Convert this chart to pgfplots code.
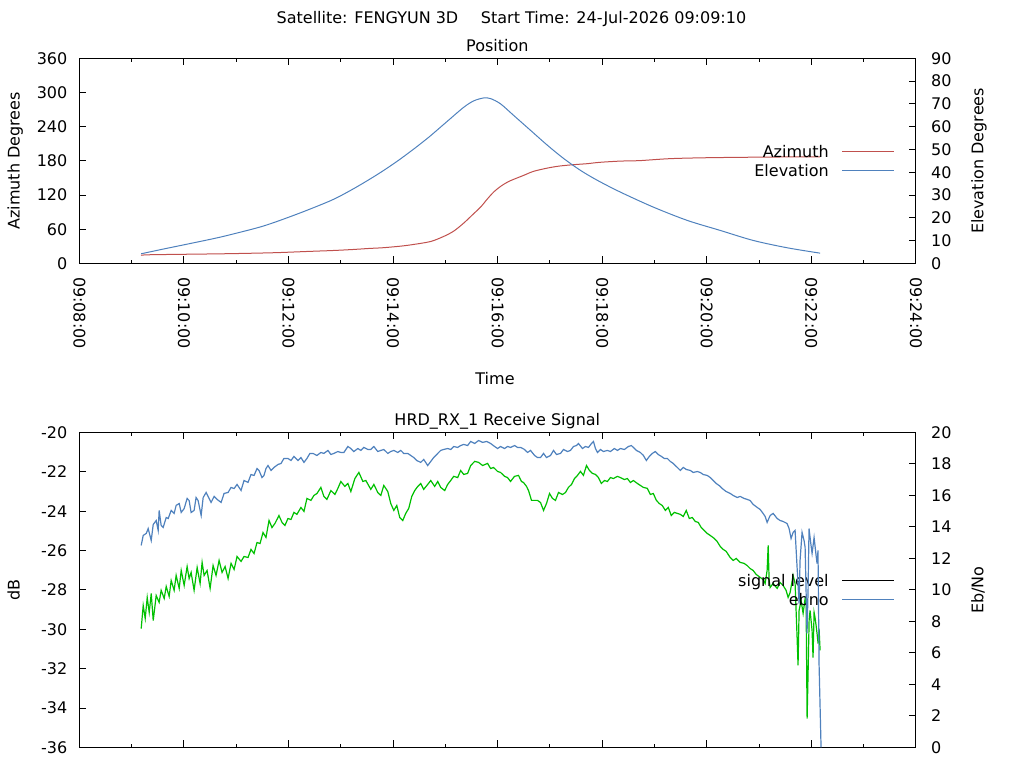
\documentclass[border=0pt]{standalone}
\usepackage{pgfplots}
\pgfplotsset{compat=1.18}
\usepackage{fontspec}
\setmainfont{DejaVu Sans}
\definecolor{azred}{RGB}{192,80,77}
\definecolor{elblue}{RGB}{79,129,189}
\definecolor{sigreen}{RGB}{0,192,0}

\pgfplotsset{
  gstyle/.style={
    scale only axis, width=627.4pt,
    xmin=0, xmax=960,
    tick align=inside,
    major tick length=5.25pt, minor tick length=2.6pt,
    every tick/.style={black, line width=0.75pt},
    axis line style={line width=0.75pt},
    font=\fontsize{12}{14}\selectfont,
    tick label style={font=\fontsize{12}{14}\selectfont},
    /pgf/number format/assume math mode=true,
    xtick={0,120,...,960}, minor x tick num=1,
  },
  leg/.style={
    legend style={draw=none, fill=none, at={(0.975,0.5)}, anchor=east,
      font=\fontsize{12}{14}\selectfont, row sep=5.7pt, column sep=9.75pt,
      inner sep=0pt, nodes={inner sep=0pt, text height=9pt, text depth=0pt}},
    legend cell align=right, legend plot pos=right,
    legend image code/.code={\draw[##1, line width=0.75pt] (0pt,0pt) -- (39pt,0pt);},
  },
}

\begin{document}
\begin{tikzpicture}[font=\fontsize{12}{14}\selectfont]
\path[use as bounding box] (0,0) rectangle (768pt,576pt);

% ---------- Position panel, left axis (azimuth) ----------
\begin{axis}[gstyle, leg, at={(59.5pt,378.4pt)}, anchor=south west, height=153.9pt,
  ymin=0, ymax=360, ytick={0,60,...,360}, ytick pos=left, xtick pos=both,
  xticklabels={09:08:00,09:10:00,09:12:00,09:14:00,09:16:00,09:18:00,09:20:00,09:22:00,09:24:00},
  xticklabel style={rotate=-90, anchor=west, inner xsep=10pt},
  yticklabel style={xshift=-5.5pt}]
\addplot[azred, line width=0.75pt, smooth] table[row sep=\\] {
x y\\
71.0 14.0\\ 81.3 15.3\\ 165.0 17.0\\ 222.2 18.8\\ 262.3 21.1\\ 292.1 22.8\\
315.0 24.6\\ 332.2 26.3\\ 348.3 27.6\\ 368.9 30.4\\ 383.8 33.4\\ 403.3 38.6\\
418.1 47.4\\ 429.6 56.7\\ 441.1 70.8\\ 452.5 87.3\\ 460.5 98.9\\ 468.5 113.6\\
475.4 125.2\\ 483.4 135.2\\ 491.4 142.8\\ 498.3 147.5\\ 509.8 154.5\\ 521.2 161.6\\
537.3 167.4\\ 551.0 170.9\\ 567.1 173.3\\ 583.1 175.1\\ 596.9 177.4\\ 620.9 179.6\\
642.7 180.4\\ 678.2 183.9\\ 724.0 185.6\\ 795.0 186.7\\ 850.1 187.0\\
};
\addlegendentry{Azimuth}
\addlegendimage{elblue}
\addlegendentry{Elevation}
\end{axis}

% ---------- Position panel, right axis (elevation) ----------
\begin{axis}[gstyle, at={(59.5pt,378.4pt)}, anchor=south west, height=153.9pt,
  ymin=0, ymax=90, ytick={0,10,...,90}, axis x line=none, axis y line*=right,
  ytick pos=right, yticklabel style={xshift=8pt}]
\addplot[elblue, line width=0.75pt, smooth] table[row sep=\\] {
x y\\
71.0 4.26\\ 97.4 6.40\\ 120.3 8.20\\ 154.7 10.95\\ 174.1 12.7\\ 211.9 16.5\\
250.9 21.8\\ 288.7 27.6\\ 308.2 31.4\\ 326.5 35.4\\ 346.0 40.0\\ 365.4 45.0\\
383.8 50.2\\ 395.2 53.6\\ 403.3 56.1\\ 422.7 62.5\\ 441.1 68.5\\ 452.5 71.3\\
464.0 72.6\\ 472.0 72.3\\ 483.4 70.0\\ 498.3 64.98\\ 517.8 58.39\\ 537.3 51.80\\
555.6 46.10\\ 575.1 40.83\\ 594.6 36.44\\ 620.9 31.30\\ 658.7 24.72\\ 697.7 18.88\\
735.5 14.49\\ 773.3 10.10\\ 812.2 6.89\\ 850.1 4.52\\
};
\end{axis}

% ---------- Receive signal panel, left axis (dB) ----------
\begin{axis}[gstyle, leg, at={(59.5pt,15.4pt)}, anchor=south west, height=236.25pt,
  ymin=-36, ymax=-20, ytick={-36,-34,...,-20}, ytick pos=left, xtick pos=both,
  xticklabels={}, yticklabel style={xshift=-5.5pt}]
\addlegendimage{black}
\addlegendentry{signal level}
\addlegendimage{elblue}
\addlegendentry{ebno}
\addplot[sigreen, line width=0.9pt, forget plot] table[row sep=\\] {
x y\\
71.0 -29.96\\ 73.3 -28.79\\ 75.6 -29.45\\ 77.9 -28.38\\ 80.2 -29.14\\ 82.5 -28.18\\
84.8 -29.55\\ 88.2 -28.28\\ 91.6 -28.63\\ 93.9 -28.02\\ 97.4 -28.43\\ 99.7 -27.82\\
103.1 -28.33\\ 105.4 -27.52\\ 108.8 -28.02\\ 111.1 -27.26\\ 114.6 -27.92\\ 116.9 -27.01\\
120.3 -27.77\\ 123.7 -26.81\\ 126.0 -27.42\\ 128.3 -27.11\\ 131.7 -28.02\\ 135.2 -26.86\\
138.6 -27.67\\ 140.9 -26.60\\ 143.2 -27.26\\ 146.6 -27.01\\ 150.1 -27.92\\ 153.5 -26.76\\
156.9 -27.26\\ 160.4 -26.50\\ 163.8 -27.11\\ 167.3 -26.81\\ 170.7 -27.42\\ 174.1 -26.65\\
177.6 -26.96\\ 181.0 -26.30\\ 185.6 -26.55\\ 189.0 -26.30\\ 193.6 -26.35\\ 197.0 -25.94\\
200.5 -26.15\\ 203.9 -25.59\\ 207.4 -25.64\\ 210.8 -25.08\\ 214.2 -25.33\\ 217.7 -24.47\\
221.1 -24.83\\ 224.5 -24.62\\ 229.1 -24.22\\ 232.6 -24.57\\ 236.0 -24.72\\ 239.4 -24.37\\
242.9 -24.42\\ 246.3 -24.06\\ 249.7 -24.16\\ 254.3 -23.81\\ 257.8 -24.01\\ 261.2 -23.35\\
265.8 -23.45\\ 269.2 -23.20\\ 272.7 -23.10\\ 277.2 -22.79\\ 280.7 -23.25\\ 284.1 -23.40\\
288.7 -22.95\\ 293.3 -23.15\\ 296.7 -22.84\\ 300.1 -22.49\\ 304.7 -22.74\\ 308.2 -22.59\\
311.6 -23.00\\ 316.2 -22.34\\ 320.8 -22.03\\ 325.4 -22.49\\ 328.8 -22.44\\ 334.5 -22.89\\
338.0 -22.64\\ 342.5 -23.05\\ 346.0 -23.20\\ 349.4 -22.69\\ 354.0 -23.00\\ 357.4 -23.61\\
360.9 -23.96\\ 364.3 -23.71\\ 367.7 -24.32\\ 371.2 -24.47\\ 374.6 -24.11\\ 378.0 -23.86\\
381.5 -23.25\\ 384.9 -22.95\\ 388.4 -22.74\\ 391.8 -22.59\\ 395.2 -22.89\\ 399.8 -22.64\\
403.3 -22.44\\ 407.8 -22.74\\ 411.3 -22.49\\ 414.7 -22.79\\ 419.3 -22.95\\ 422.7 -22.64\\
426.2 -22.44\\ 429.6 -22.23\\ 434.2 -22.29\\ 437.6 -21.93\\ 441.1 -22.13\\ 445.6 -22.08\\
449.1 -21.68\\ 453.7 -21.47\\ 458.2 -21.52\\ 462.8 -21.68\\ 468.5 -21.57\\ 472.0 -21.83\\
475.4 -21.78\\ 480.0 -21.98\\ 483.4 -22.03\\ 488.0 -22.23\\ 491.4 -22.29\\ 494.8 -22.49\\
499.4 -22.23\\ 504.0 -22.18\\ 507.4 -22.49\\ 509.7 -22.54\\ 513.2 -22.74\\ 515.5 -22.95\\
518.9 -23.45\\ 522.4 -23.45\\ 525.8 -23.45\\ 529.3 -23.56\\ 532.7 -23.96\\ 536.1 -23.61\\
539.6 -23.10\\ 543.0 -23.35\\ 546.4 -23.45\\ 549.9 -23.05\\ 554.5 -23.15\\ 557.9 -23.05\\
561.3 -22.79\\ 564.8 -22.64\\ 568.2 -22.34\\ 571.7 -22.18\\ 575.1 -21.98\\ 578.5 -22.18\\
582.0 -21.68\\ 585.4 -21.93\\ 588.8 -22.08\\ 592.3 -22.13\\ 595.7 -22.29\\ 599.1 -22.59\\
602.6 -22.44\\ 606.0 -22.49\\ 609.5 -22.29\\ 612.9 -22.34\\ 617.5 -22.23\\ 620.9 -22.29\\
625.5 -22.39\\ 628.9 -22.34\\ 632.4 -22.54\\ 635.8 -22.44\\ 640.4 -22.59\\ 643.8 -22.69\\
647.3 -22.79\\ 651.8 -22.84\\ 655.3 -23.15\\ 658.7 -23.10\\ 662.2 -23.45\\ 665.6 -23.61\\
669.0 -23.71\\ 672.5 -23.96\\ 675.9 -23.81\\ 679.3 -24.22\\ 682.8 -24.06\\ 686.2 -24.11\\
689.7 -24.16\\ 693.1 -24.27\\ 696.5 -23.96\\ 700.0 -24.37\\ 703.4 -24.32\\ 706.8 -24.52\\
710.3 -24.57\\ 713.7 -24.83\\ 717.1 -24.98\\ 720.6 -25.13\\ 724.0 -25.23\\ 728.6 -25.38\\
732.0 -25.54\\ 735.5 -25.79\\ 738.9 -25.94\\ 742.3 -26.04\\ 746.9 -26.35\\ 750.4 -26.50\\
753.8 -26.40\\ 758.4 -26.60\\ 762.9 -26.65\\ 766.4 -26.76\\ 769.8 -26.91\\ 773.3 -27.01\\
776.7 -27.21\\ 781.3 -27.36\\ 784.7 -27.47\\ 787.0 -27.67\\ 789.3 -27.01\\ 790.5 -25.74\\
791.6 -27.52\\ 792.8 -27.87\\ 796.2 -27.67\\ 800.8 -27.92\\ 804.2 -27.62\\ 807.6 -27.77\\
811.1 -28.02\\ 813.4 -28.38\\ 815.7 -28.13\\ 819.1 -27.26\\ 821.4 -27.67\\ 823.7 -30.41\\
824.8 -31.83\\ 826.0 -29.04\\ 828.3 -28.53\\ 830.6 -29.19\\ 832.9 -28.43\\ 834.0 -28.53\\
835.2 -34.53\\ 836.3 -32.24\\ 837.5 -29.55\\ 838.6 -29.04\\ 840.9 -30.06\\ 842.0 -31.43\\
843.2 -29.14\\ 844.3 -29.40\\ 845.5 -29.80\\ 846.6 -30.21\\ 847.8 -30.72\\ 848.9 -29.96\\
850.1 -31.07\\
};
\end{axis}

% ---------- Receive signal panel, right axis (Eb/No) ----------
\begin{axis}[gstyle, at={(59.5pt,15.4pt)}, anchor=south west, height=236.25pt,
  ymin=0, ymax=20, ytick={0,2,...,20}, axis x line=none, axis y line*=right,
  ytick pos=right, yticklabel style={xshift=8pt}]
\addplot[elblue, line width=0.9pt] table[row sep=\\] {
x y\\
71.0 12.83\\ 73.3 13.46\\ 76.8 13.59\\ 79.0 13.90\\ 82.5 13.14\\ 84.8 14.16\\
88.2 14.41\\ 90.5 13.78\\ 91.6 15.05\\ 93.9 14.10\\ 96.2 13.97\\ 99.7 14.60\\
102.0 14.54\\ 105.4 15.05\\ 108.8 14.86\\ 111.1 15.37\\ 114.6 15.49\\ 116.9 14.92\\
120.3 15.17\\ 123.7 15.81\\ 126.0 15.68\\ 128.3 14.92\\ 131.7 15.05\\ 134.0 15.87\\
136.3 15.68\\ 139.8 14.73\\ 142.1 15.87\\ 145.5 16.19\\ 148.9 15.81\\ 151.2 15.56\\
154.7 15.94\\ 158.1 15.75\\ 162.7 15.56\\ 166.1 16.13\\ 170.7 16.19\\ 174.1 16.51\\
177.6 16.44\\ 181.0 16.70\\ 185.6 16.32\\ 189.0 16.95\\ 193.6 16.83\\ 197.0 17.33\\
200.5 17.27\\ 203.9 17.71\\ 206.2 17.59\\ 209.6 17.14\\ 211.9 17.27\\ 214.2 17.71\\
216.5 17.90\\ 220.0 17.59\\ 223.4 17.78\\ 228.0 17.97\\ 231.4 18.03\\ 234.8 18.35\\
239.4 18.35\\ 242.9 18.22\\ 246.3 18.48\\ 250.9 18.22\\ 254.3 18.41\\ 257.8 18.10\\
261.2 18.35\\ 264.6 18.67\\ 268.1 18.67\\ 272.7 18.54\\ 277.2 18.73\\ 280.7 18.67\\
285.3 18.86\\ 288.7 18.60\\ 292.1 18.67\\ 296.7 18.79\\ 300.1 18.73\\ 303.6 18.73\\
308.2 19.11\\ 311.6 18.98\\ 315.0 18.79\\ 319.6 18.98\\ 323.1 18.86\\ 326.5 19.05\\
331.1 18.92\\ 334.5 18.92\\ 338.0 19.11\\ 342.5 18.79\\ 346.0 18.86\\ 349.4 18.92\\
354.0 18.67\\ 357.4 18.79\\ 360.9 18.86\\ 365.4 18.73\\ 368.9 18.86\\ 372.3 18.67\\
376.9 18.67\\ 380.3 18.54\\ 383.8 18.41\\ 387.2 18.22\\ 391.8 18.10\\ 395.2 18.29\\
399.8 17.90\\ 403.3 18.16\\ 406.7 18.41\\ 411.3 18.67\\ 414.7 18.86\\ 418.1 18.92\\
422.7 18.98\\ 426.2 18.92\\ 429.6 19.11\\ 434.2 19.05\\ 437.6 19.17\\ 441.1 19.24\\
445.6 19.17\\ 449.1 19.43\\ 453.7 19.30\\ 458.2 19.49\\ 462.8 19.37\\ 467.4 19.43\\
472.0 19.30\\ 476.6 19.11\\ 480.0 18.98\\ 483.4 19.11\\ 488.0 18.98\\ 491.4 19.11\\
494.9 19.05\\ 499.5 19.17\\ 502.9 19.05\\ 506.4 19.05\\ 510.9 18.92\\ 514.4 18.73\\
517.8 18.86\\ 522.4 18.54\\ 525.8 18.41\\ 529.3 18.41\\ 532.7 18.67\\ 536.1 18.41\\
540.7 18.54\\ 544.2 18.86\\ 547.6 18.60\\ 552.2 18.67\\ 555.6 18.92\\ 560.2 18.79\\
563.6 18.86\\ 567.1 19.11\\ 570.5 19.17\\ 572.8 19.30\\ 577.4 18.98\\ 580.8 19.11\\
584.3 19.05\\ 587.7 19.30\\ 590.0 19.43\\ 592.3 18.98\\ 594.6 18.73\\ 598.0 18.92\\
601.4 18.79\\ 606.0 18.86\\ 609.5 18.79\\ 614.0 18.98\\ 617.5 18.86\\ 620.9 18.98\\
625.5 18.92\\ 630.1 19.11\\ 633.5 19.17\\ 635.8 19.05\\ 639.2 18.86\\ 643.8 18.73\\
647.3 18.54\\ 650.7 18.22\\ 654.1 18.48\\ 657.6 18.67\\ 661.0 18.79\\ 664.4 18.60\\
667.9 18.48\\ 671.3 18.35\\ 674.8 18.35\\ 678.2 18.16\\ 681.6 18.03\\ 685.1 17.84\\
689.7 17.59\\ 693.1 17.78\\ 696.5 17.65\\ 701.1 17.59\\ 704.5 17.46\\ 709.1 17.52\\
712.6 17.46\\ 716.0 17.33\\ 720.6 17.27\\ 724.0 17.14\\ 727.5 16.95\\ 730.9 16.76\\
734.3 16.63\\ 737.8 16.44\\ 742.3 16.25\\ 746.9 16.13\\ 750.4 16.00\\ 754.9 15.87\\
758.4 15.94\\ 763.0 15.81\\ 766.4 15.75\\ 769.8 15.68\\ 773.3 15.43\\ 777.9 15.24\\
781.3 15.11\\ 784.7 14.86\\ 787.0 14.67\\ 789.3 14.29\\ 792.8 14.73\\ 796.2 14.86\\
800.8 14.54\\ 804.2 14.41\\ 807.6 14.35\\ 812.2 14.22\\ 814.5 13.90\\ 816.8 13.27\\
819.1 13.65\\ 821.4 13.78\\ 823.7 11.43\\ 826.0 9.14\\ 827.1 11.87\\ 829.4 13.65\\
831.7 13.14\\ 832.9 12.70\\ 835.1 7.24\\ 836.3 9.97\\ 837.4 13.90\\ 839.7 12.83\\
840.9 12.32\\ 843.2 13.33\\ 845.5 12.19\\ 846.6 11.68\\ 847.7 12.51\\ 848.9 5.33\\
851.2 0.00\\
};
\end{axis}

% ---------- texts ----------
\node[anchor=base] at (383.6pt,558.5pt) {Satellite: FENGYUN 3D\hspace{17pt}Start Time: 24-Jul-2026 09:09:10};
\node[anchor=base] at (373pt,537.2pt) {Position};
\node[anchor=base] at (371.25pt,287.25pt) {Time};
\node[anchor=base] at (373pt,256.5pt) {HRD\_RX\_1 Receive Signal};
\node[anchor=base, rotate=90] at (14.8pt,455.3pt) {Azimuth Degrees};
\node[anchor=base, rotate=90] at (737.5pt,455.3pt) {Elevation Degrees};
\node[anchor=base, rotate=90] at (14.8pt,133.5pt) {dB};
\node[anchor=base, rotate=90] at (737.5pt,133.5pt) {Eb/No};
\end{tikzpicture}
\end{document}
